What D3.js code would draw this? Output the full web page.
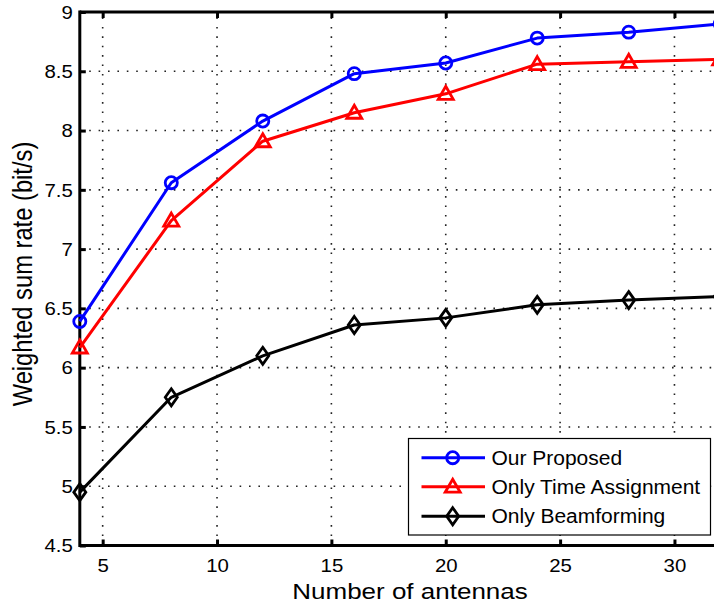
<!DOCTYPE html>
<html>
<head>
<meta charset="utf-8">
<script src="https://cdn.jsdelivr.net/npm/d3@7"></script>
<style>
  html, body { margin: 0; padding: 0; background: #fff; overflow: hidden; }
  svg { display: block; font-family: "Liberation Sans", Arial, sans-serif; }
</style>
</head>
<body>
<svg id="chart" width="714" height="603"></svg>
<script>
// Number of antennas on the x axis
const antennas = [4, 8, 12, 16, 20, 24, 28, 32];
// Weighted sum rate (bit/s) per scheme
const proposed = [6.39, 7.56, 8.08, 8.48, 8.57, 8.78, 8.83, 8.90];
const timeOnly = [6.17, 7.24, 7.91, 8.15, 8.31, 8.56, 8.58, 8.60];
const beamOnly = [4.95, 5.75, 6.10, 6.36, 6.42, 6.53, 6.57, 6.60];
const seriesNames = ["Our Proposed", "Only Time Assignment", "Only Beamforming"];
const xTicks = [5, 10, 15, 20, 25, 30];
const yTicks = [4.5, 5, 5.5, 6, 6.5, 7, 7.5, 8, 8.5, 9];

const series = [
  { name: seriesNames[0], values: proposed, color: "#0000ff", marker: "circle" },
  { name: seriesNames[1], values: timeOnly, color: "#ff0000", marker: "triangle" },
  { name: seriesNames[2], values: beamOnly, color: "#000000", marker: "diamond" }
];

const svg = d3.select("#chart");
const plotL = 79.8, plotR = 720.2, plotT = 12, plotB = 545.5;
const squash = 0.86; // text is drawn slightly flattened vertically

const x = d3.scaleLinear().domain([4, 32]).range([plotL, plotR]);
const y = d3.scaleLinear().domain([4.5, 9]).range([plotB, plotT]);

// dotted grid
const grid = svg.append("g");
grid.selectAll(".gx").data(xTicks).join("line")
  .attr("x1", d => x(d)).attr("x2", d => x(d))
  .attr("y1", plotB).attr("y2", plotT)
  .attr("stroke", "#222").attr("stroke-width", 1.6)
  .attr("stroke-dasharray", "1.6,7.8");
grid.selectAll(".gy").data(yTicks.filter(t => t > 4.5 && t < 9)).join("line")
  .attr("x1", plotL).attr("x2", plotR)
  .attr("y1", d => y(d)).attr("y2", d => y(d))
  .attr("stroke", "#222").attr("stroke-width", 1.6)
  .attr("stroke-dasharray", "1.6,7.8");

// axes with inward ticks
const xAxis = svg.append("g").attr("transform", `translate(0,${plotB})`)
  .call(d3.axisBottom(x).tickValues(xTicks).tickSize(-6).tickFormat(d3.format("d")));
const xAxisTop = svg.append("g").attr("transform", `translate(0,${plotT})`)
  .call(d3.axisTop(x).tickValues(xTicks).tickSize(-6).tickFormat(""));
const yAxis = svg.append("g").attr("transform", `translate(${plotL},0)`)
  .call(d3.axisLeft(y).tickValues(yTicks).tickSize(-6).tickFormat(d => d3.format("")(d)));

[xAxis, xAxisTop, yAxis].forEach(g => {
  g.select(".domain").attr("stroke", "#000").attr("stroke-width", 3);
  g.selectAll(".tick line").attr("stroke", "#000").attr("stroke-width", 3);
  g.selectAll(".tick text").attr("fill", "#000").attr("font-size", 20.4)
    .attr("font-family", "'Liberation Sans', Arial, sans-serif")
    .attr("x", null).attr("y", null).attr("dy", null);
});
xAxis.selectAll(".tick text")
  .attr("text-anchor", "middle")
  .attr("transform", `translate(0,26) scale(1,${squash})`);
yAxis.selectAll(".tick text")
  .attr("text-anchor", "end")
  .attr("transform", `translate(-7,6.2) scale(1,${squash})`);
xAxis.select(".domain").attr("d", `M${plotL},0H${plotR}`);
xAxisTop.select(".domain").attr("d", `M${plotL},0H${plotR}`);
yAxis.select(".domain").attr("d", `M0,${plotB + 1.5}V${plotT - 1.5}`);

// axis titles
svg.append("text")
  .attr("transform", `translate(410,598.5) scale(1,${squash})`)
  .attr("text-anchor", "middle").attr("font-size", 26)
  .text("Number of antennas");
svg.append("text")
  .attr("transform", `translate(31.5,274) rotate(-90) scale(${squash},1)`)
  .attr("text-anchor", "middle").attr("font-size", 27.6)
  .text("Weighted sum rate (bit/s)");

// marker shapes
function markerPath(type) {
  if (type === "circle") return d3.symbol(d3.symbolCircle, 115)();
  if (type === "triangle") return "M0,-7.5L7.5,5.5L-7.5,5.5Z";
  return "M0,-8.5L6,0L0,8.5L-6,0Z";
}

const line = d3.line().x(d => x(d[0])).y(d => y(d[1]));
series.forEach(s => {
  const pts = antennas.map((a, i) => [a, s.values[i]]);
  const g = svg.append("g");
  g.append("path").datum(pts).attr("d", line)
    .attr("fill", "none").attr("stroke", s.color).attr("stroke-width", 3)
    .attr("stroke-linejoin", "round");
  g.selectAll("path.m").data(pts).join("path").attr("class", "m")
    .attr("transform", d => `translate(${x(d[0])},${y(d[1])})`)
    .attr("d", markerPath(s.marker))
    .attr("fill", "none").attr("stroke", s.color).attr("stroke-width", 2.8);
});

// legend
const lg = svg.append("g");
lg.append("rect").attr("x", 408.5).attr("y", 438.5).attr("width", 302).attr("height", 96.5)
  .attr("fill", "#fff").attr("stroke", "#000").attr("stroke-width", 1.2);
const rowY = [457.7, 486.7, 516.2];
series.forEach((s, i) => {
  lg.append("line").attr("x1", 421.5).attr("x2", 485).attr("y1", rowY[i]).attr("y2", rowY[i])
    .attr("stroke", s.color).attr("stroke-width", 3);
  lg.append("path").attr("transform", `translate(452.7,${rowY[i]})`)
    .attr("d", markerPath(s.marker))
    .attr("fill", "none").attr("stroke", s.color).attr("stroke-width", 2.8);
  lg.append("text")
    .attr("transform", `translate(491.5,${rowY[i] + 7.2}) scale(1,0.92)`)
    .attr("font-size", 21).attr("fill", "#000").text(s.name);
});
</script>
</body>
</html>
